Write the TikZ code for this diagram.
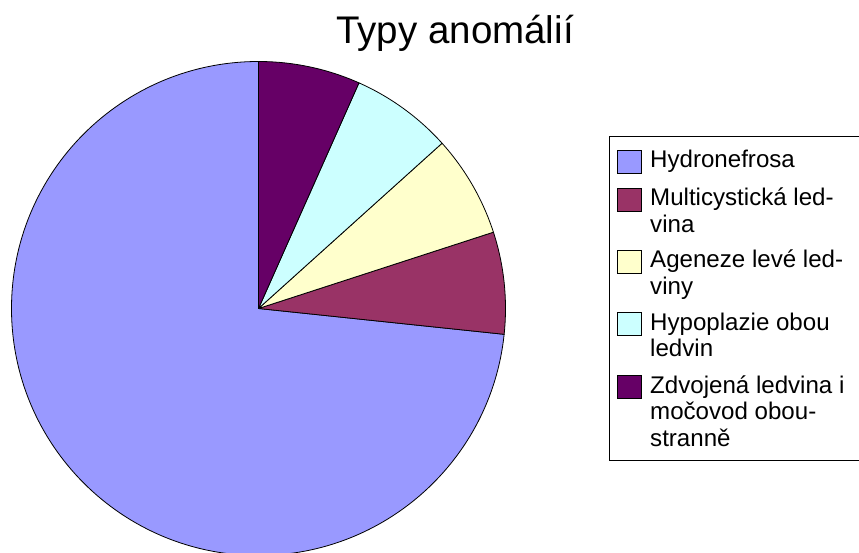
\documentclass[tikz,border=0pt]{standalone}
\usepackage{fontspec}
\setmainfont{Liberation Sans}
\definecolor{cHyd}{HTML}{9999FF}
\definecolor{cMul}{HTML}{993366}
\definecolor{cAge}{HTML}{FFFFCC}
\definecolor{cHyp}{HTML}{CCFFFF}
\definecolor{cZdv}{HTML}{660066}
\begin{document}
\begin{tikzpicture}[x=1pt,y=1pt,
  slice/.style={draw=black,line width=0.8pt,line join=round},
  swatch/.style={draw=black,line width=0.8pt,rectangle,minimum width=24pt,minimum height=23pt,inner sep=0pt},
  legtext/.style={anchor=base west,inner sep=0pt,align=left,font=\fontsize{24.1}{26.5}\selectfont}]
\useasboundingbox (0,0) rectangle (859,552);
\clip (0,0) rectangle (859,552);
\coordinate (c) at (258.5,243.5);
\def\R{247}
% slices
\filldraw[slice,fill=cHyd] (c) -- ++(90:\R) arc[start angle=90,end angle=354,radius=\R] -- cycle;
\filldraw[slice,fill=cMul] (c) -- ++(-6:\R) arc[start angle=-6,end angle=18,radius=\R] -- cycle;
\filldraw[slice,fill=cAge] (c) -- ++(18:\R) arc[start angle=18,end angle=42,radius=\R] -- cycle;
\filldraw[slice,fill=cHyp] (c) -- ++(42:\R) arc[start angle=42,end angle=66,radius=\R] -- cycle;
\filldraw[slice,fill=cZdv] (c) -- ++(66:\R) arc[start angle=66,end angle=90,radius=\R] -- cycle;
% title
\node[anchor=base,inner sep=0pt,font=\fontsize{38.5}{44}\selectfont] (title) at (455,508) {Typy anomálií};
% legend
\draw[line width=0.8pt] (609,416) rectangle (870,92);
\node[swatch,fill=cHyd] (s1) at (629,390.5) {};
\node[legtext] (t1) at (650,384) {Hydronefrosa};
\node[swatch,fill=cMul] (s2) at (629,352.5) {};
\node[legtext] (t2) at (650,319.5) {Multicystická led-\\vina};
\node[swatch,fill=cAge] (s3) at (629,290.5) {};
\node[legtext] (t3) at (650,257.5) {Ageneze levé led-\\viny};
\node[swatch,fill=cHyp] (s4) at (629,228.5) {};
\node[legtext] (t4) at (650,195.5) {Hypoplazie obou\\ledvin};
\node[swatch,fill=cZdv] (s5) at (629,165.5) {};
\node[legtext] (t5) at (650,106) {Zdvojená ledvina i\\močovod obou-\\stranně};
\end{tikzpicture}
\end{document}
